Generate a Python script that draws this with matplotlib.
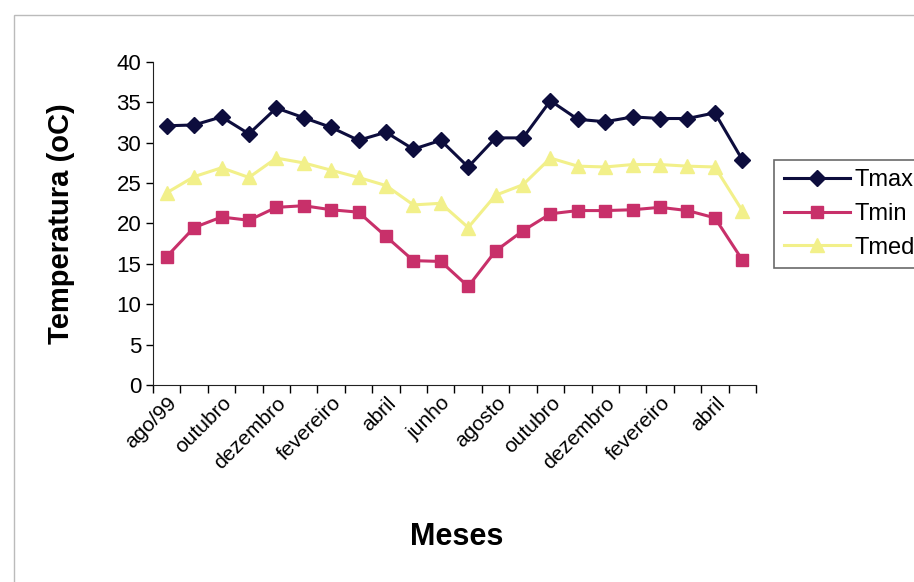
import numpy as np
import matplotlib.pyplot as plt
from matplotlib.patches import Rectangle

# meses de ago/99 a mai/01
meses = ['ago/99', 'setembro', 'outubro', 'novembro', 'dezembro', 'janeiro',
         'fevereiro', 'março', 'abril', 'maio', 'junho', 'julho', 'agosto',
         'setembro', 'outubro', 'novembro', 'dezembro', 'janeiro', 'fevereiro',
         'março', 'abril', 'maio']
tmax = [32.1, 32.2, 33.2, 31.1, 34.3, 33.1, 31.9, 30.3, 31.3, 29.2, 30.3,
        27.0, 30.6, 30.6, 35.2, 32.9, 32.6, 33.2, 33.0, 33.0, 33.7, 27.9]
tmin = [15.9, 19.5, 20.8, 20.4, 22.0, 22.2, 21.7, 21.4, 18.4, 15.4, 15.3,
        12.2, 16.6, 19.1, 21.2, 21.6, 21.6, 21.7, 22.0, 21.6, 20.7, 15.5]
tmed = [23.8, 25.8, 26.9, 25.7, 28.1, 27.5, 26.6, 25.7, 24.7, 22.3, 22.5,
        19.5, 23.5, 24.8, 28.1, 27.1, 27.0, 27.3, 27.3, 27.1, 27.0, 21.6]

plt.rcParams['font.family'] = ['Liberation Sans', 'DejaVu Sans']

fig = plt.figure(figsize=(9.14, 5.82), dpi=100)
ax = fig.add_axes([0.1674, 0.3385, 0.6597, 0.555])

x = np.arange(len(meses))
ax.plot(x, tmax, color='#0d0d3d', marker='D', markersize=8, lw=2.2, label='Tmax')
ax.plot(x, tmin, color='#c8306a', marker='s', markersize=9, lw=2.2, label='Tmin')
ax.plot(x, tmed, color='#f2f08a', marker='^', markersize=10, lw=2.2, label='Tmed')

ax.set_xlim(-0.5, len(meses) - 0.5)
ax.set_ylim(0, 40)
ax.set_yticks(np.arange(0, 41, 5))
ax.tick_params(axis='y', direction='out', length=5, labelsize=16, width=1)

# rótulos a cada dois meses, marcas entre categorias
ax.set_xticks(x[::2])
ax.set_xticklabels(meses[::2], rotation=45, ha='right', rotation_mode='anchor')
ax.tick_params(axis='x', which='major', length=0, labelsize=15, pad=6)
ax.set_xticks(np.arange(-0.5, len(meses)), minor=True)
ax.tick_params(axis='x', which='minor', direction='out', length=6, width=1)

for s in ['top', 'right']:
    ax.spines[s].set_visible(False)
ax.spines['left'].set_color('#222222')
ax.spines['bottom'].set_color('#222222')

ax.set_ylabel('Temperatura (oC)', fontsize=21, fontweight='bold', labelpad=30)
fig.text(0.5, 0.077, 'Meses', fontsize=22, fontweight='bold', ha='center', va='center')

leg = ax.legend(loc='center left', bbox_to_anchor=(1.03, 0.53), fontsize=17,
                frameon=True, fancybox=False, edgecolor='#444444',
                handlelength=2.8, handletextpad=0.2, borderpad=0.4,
                labelspacing=0.5, borderaxespad=0)
leg.get_frame().set_linewidth(1.2)

fig.patches.append(Rectangle((0.015, -0.01), 1.0, 0.985, transform=fig.transFigure,
                             fill=False, edgecolor='#bbbbbb', lw=1))

fig.savefig('out.png', dpi=100)
